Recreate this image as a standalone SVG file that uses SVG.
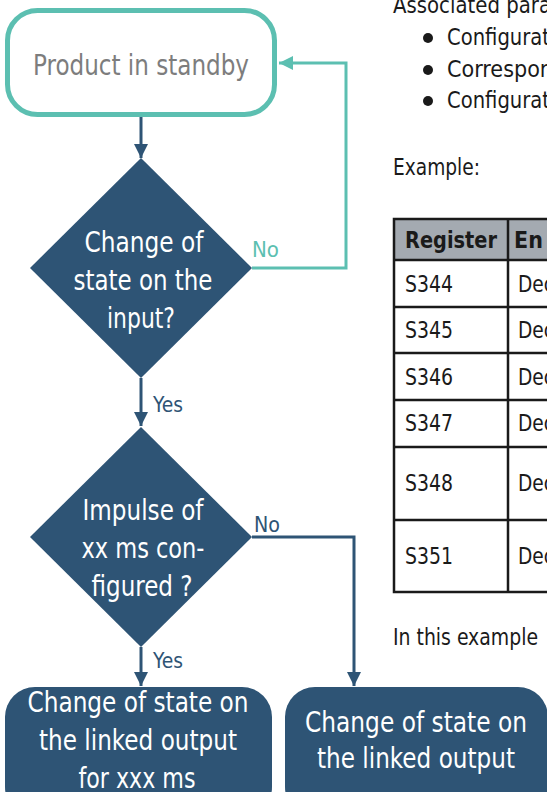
<svg xmlns="http://www.w3.org/2000/svg" width="547" height="792" viewBox="0 0 547 792">
<defs>
<style>
text{font-family:"Liberation Sans Narrow","DejaVu Sans Condensed","Liberation Sans",sans-serif;}
.w{fill:#ffffff;font-size:29px;text-anchor:middle;}
.lbl{font-size:22px;}
.body{fill:#1a1a1a;font-size:23px;}
.dk{fill:#2e5475;}
.tl{fill:#5cbfb1;}
.cd{fill:none;stroke:#2e5475;stroke-width:3;}
.ct{fill:none;stroke:#5cbfb1;stroke-width:3;}
.grid{stroke:#1a1a1a;stroke-width:2.5;fill:none;}
</style>
<marker id="ad" viewBox="0 0 14 18" refX="14" refY="7" markerWidth="14" markerHeight="18" markerUnits="userSpaceOnUse" orient="auto"><path d="M0,0 L14,7 L0,14 Z" fill="#2e5475"/></marker>
<marker id="at" viewBox="0 0 14 18" refX="14" refY="7" markerWidth="14" markerHeight="18" markerUnits="userSpaceOnUse" orient="auto"><path d="M0,0 L14,7 L0,14 Z" fill="#5cbfb1"/></marker>
</defs>
<rect width="547" height="792" fill="#ffffff"/>

<g id="connectors">
<line class="cd" x1="141" y1="117" x2="141" y2="158" marker-end="url(#ad)"/>
<polyline class="ct" points="252,268 346,268 346,63 279,63" marker-end="url(#at)"/>
<line class="cd" x1="141" y1="378" x2="141" y2="426" marker-end="url(#ad)"/>
<polyline class="cd" points="252,537 354,537 354,686" marker-end="url(#ad)"/>
<line class="cd" x1="141" y1="647" x2="141" y2="686" marker-end="url(#ad)"/>
<text class="lbl tl" x="252" y="257" textLength="27" lengthAdjust="spacingAndGlyphs">No</text>
<text class="lbl dk" x="153" y="412" textLength="30" lengthAdjust="spacingAndGlyphs">Yes</text>
<text class="lbl dk" x="254" y="532" textLength="26" lengthAdjust="spacingAndGlyphs">No</text>
<text class="lbl dk" x="153" y="668" textLength="30" lengthAdjust="spacingAndGlyphs">Yes</text>
</g>

<g id="standby">
<rect x="7.5" y="10.5" width="267" height="104" rx="30" fill="#ffffff" stroke="#5cbfb1" stroke-width="5"/>
<text x="141" y="75" font-size="29" fill="#7d7d7d" text-anchor="middle" textLength="216" lengthAdjust="spacingAndGlyphs">Product in standby</text>
</g>

<g id="decision1">
<polygon points="141,158 252,268 141,378 30,268" fill="#2e5475"/>
<text class="w" x="144" y="252" textLength="119" lengthAdjust="spacingAndGlyphs">Change of</text>
<text class="w" x="143" y="290" textLength="139" lengthAdjust="spacingAndGlyphs">state on the</text>
<text class="w" x="141" y="328" textLength="68" lengthAdjust="spacingAndGlyphs">input?</text>
</g>

<g id="decision2">
<polygon points="141,427 252,537 141,647 30,537" fill="#2e5475"/>
<text class="w" x="143" y="520" textLength="121" lengthAdjust="spacingAndGlyphs">Impulse of</text>
<text class="w" x="143" y="558" textLength="123" lengthAdjust="spacingAndGlyphs">xx ms con-</text>
<text class="w" x="142" y="596" textLength="101" lengthAdjust="spacingAndGlyphs">figured ?</text>
</g>

<g id="output-timed">
<rect x="5" y="687" width="267" height="130" rx="30" fill="#2e5475"/>
<text class="w" x="138" y="712" textLength="221" lengthAdjust="spacingAndGlyphs">Change of state on</text>
<text class="w" x="138" y="750" textLength="198" lengthAdjust="spacingAndGlyphs">the linked output</text>
<text class="w" x="137" y="788" textLength="117" lengthAdjust="spacingAndGlyphs">for xxx ms</text>
</g>

<g id="output">
<rect x="285" y="687" width="263" height="130" rx="30" fill="#2e5475"/>
<text class="w" x="416" y="732" textLength="222" lengthAdjust="spacingAndGlyphs">Change of state on</text>
<text class="w" x="416" y="768" textLength="198" lengthAdjust="spacingAndGlyphs">the linked output</text>
</g>

<g id="side-text">
<text class="body" x="393" y="13" textLength="158" lengthAdjust="spacingAndGlyphs">Associated para</text>
<circle cx="428" cy="38" r="5" fill="#1a1a1a"/>
<circle cx="428" cy="70" r="5" fill="#1a1a1a"/>
<circle cx="428" cy="101" r="5" fill="#1a1a1a"/>
<text class="body" x="447" y="45" textLength="103" lengthAdjust="spacingAndGlyphs">Configurat</text>
<text class="body" x="447" y="77" textLength="106" lengthAdjust="spacingAndGlyphs">Correspon</text>
<text class="body" x="447" y="108" textLength="103" lengthAdjust="spacingAndGlyphs">Configurat</text>
<text class="body" x="393" y="175" textLength="87" lengthAdjust="spacingAndGlyphs">Example:</text>
<text class="body" x="393" y="645" textLength="145" lengthAdjust="spacingAndGlyphs">In this example</text>
</g>

<g id="table">
<rect x="394" y="219" width="160" height="41" fill="#a4aab1"/>
<rect x="394" y="219" width="160" height="373" class="grid"/>
<line class="grid" x1="394" y1="260" x2="547" y2="260"/>
<line class="grid" x1="394" y1="307" x2="547" y2="307"/>
<line class="grid" x1="394" y1="353" x2="547" y2="353"/>
<line class="grid" x1="394" y1="400" x2="547" y2="400"/>
<line class="grid" x1="394" y1="447" x2="547" y2="447"/>
<line class="grid" x1="394" y1="520" x2="547" y2="520"/>
<line class="grid" x1="508" y1="219" x2="508" y2="592"/>
<text class="body" x="405" y="248" font-weight="bold" textLength="92" lengthAdjust="spacingAndGlyphs">Register</text>
<text class="body" x="514" y="248" font-weight="bold">En</text>
<text class="body" x="518" y="292" textLength="36" lengthAdjust="spacingAndGlyphs">Dec</text>
<text class="body" x="518" y="338" textLength="36" lengthAdjust="spacingAndGlyphs">Dec</text>
<text class="body" x="518" y="385" textLength="36" lengthAdjust="spacingAndGlyphs">Dec</text>
<text class="body" x="518" y="431" textLength="36" lengthAdjust="spacingAndGlyphs">Dec</text>
<text class="body" x="518" y="491" textLength="36" lengthAdjust="spacingAndGlyphs">Dec</text>
<text class="body" x="518" y="564" textLength="36" lengthAdjust="spacingAndGlyphs">Dec</text>
<text class="body" x="405" y="292" textLength="48" lengthAdjust="spacingAndGlyphs">S344</text>
<text class="body" x="405" y="338" textLength="48" lengthAdjust="spacingAndGlyphs">S345</text>
<text class="body" x="405" y="385" textLength="48" lengthAdjust="spacingAndGlyphs">S346</text>
<text class="body" x="405" y="431" textLength="48" lengthAdjust="spacingAndGlyphs">S347</text>
<text class="body" x="405" y="491" textLength="48" lengthAdjust="spacingAndGlyphs">S348</text>
<text class="body" x="405" y="564" textLength="48" lengthAdjust="spacingAndGlyphs">S351</text>
</g>
</svg>
